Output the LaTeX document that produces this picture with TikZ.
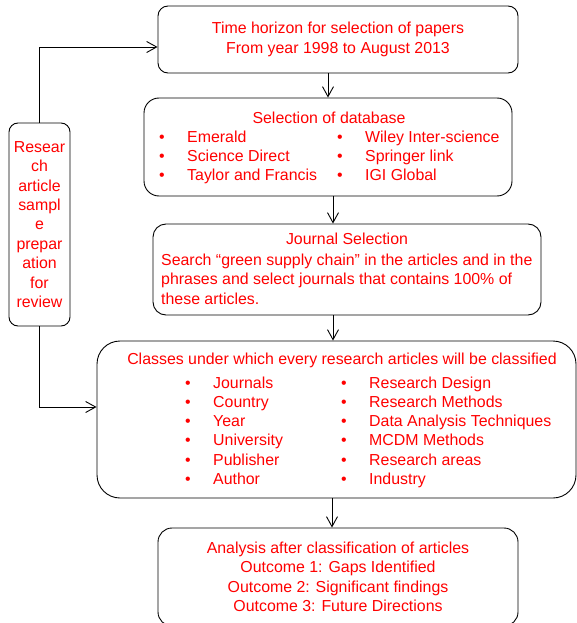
\documentclass[tikz,border=0pt]{standalone}
\usepackage{fontspec}
\setmainfont{Liberation Sans}
\usetikzlibrary{arrows.meta}
\newcommand{\itm}[1]{\makebox[28pt][l]{\textbullet}#1}
\tikzstyle{stage}=[rectangle,draw=black,line width=0.9pt,inner sep=0pt,text=red,align=center,font=\fontsize{15.9}{19.4}\selectfont]
\tikzstyle{lbl}=[inner sep=0pt,text=red,font=\fontsize{15.9}{19.4}\selectfont]
\tikzstyle{flow}=[line width=0.9pt,-{Straight Barb[length=10pt,width=11pt]}]

\begin{document}
\begin{tikzpicture}[x=1pt,y=-1pt]
            \useasboundingbox (0,0) rectangle (577,623);
            \clip (0,0) rectangle (577,623);

            \node[stage,minimum width=360pt,minimum height=67pt,rounded corners=10pt] (time) at (338,39.5)
                {Time horizon for selection of papers\\From year 1998 to August 2013};

            \node[stage,minimum width=368pt,minimum height=98pt,rounded corners=15pt] (db) at (328,147) {};
            \node[lbl,anchor=base] (dbt) at (329,123) {Selection of database};
            \node[lbl,anchor=base west] (db1) at (159,142.5) {\itm{Emerald}};
            \node[lbl,anchor=base west] (db2) at (159,161.5) {\itm{Science Direct}};
            \node[lbl,anchor=base west] (db3) at (159,180.5) {\itm{Taylor and Francis}};
            \node[lbl,anchor=base west] (db4) at (337,142.5) {\itm{Wiley Inter-science}};
            \node[lbl,anchor=base west] (db5) at (337,161.5) {\itm{Springer link}};
            \node[lbl,anchor=base west] (db6) at (337,180.5) {\itm{IGI Global}};

            \node[stage,minimum width=388pt,minimum height=91pt,rounded corners=13pt] (jrn) at (347,269.5) {};
            \node[lbl,anchor=base] (jrnt) at (347,244) {Journal Selection};
            \node[lbl,anchor=base west] (jrn1) at (161,265) {Search “green supply chain” in the articles and in the};
            \node[lbl,anchor=base west] (jrn2) at (161,284.5) {phrases and select journals that contains 100\% of};
            \node[lbl,anchor=base west] (jrn3) at (161,304) {these articles.};

            \node[stage,minimum width=479pt,minimum height=157pt,rounded corners=23pt] (cls) at (336.5,419.5) {};
            \node[lbl,anchor=base] (clst) at (342,364) {Classes under which every research articles will be classified};
            \node[lbl,anchor=base west] (cl1) at (185,388) {\itm{Journals}};
            \node[lbl,anchor=base west] (cl2) at (185,407.3) {\itm{Country}};
            \node[lbl,anchor=base west] (cl3) at (185,426.6) {\itm{Year}};
            \node[lbl,anchor=base west] (cl4) at (185,445.9) {\itm{University}};
            \node[lbl,anchor=base west] (cl5) at (185,465.2) {\itm{Publisher}};
            \node[lbl,anchor=base west] (cl6) at (185,484.5) {\itm{Author}};
            \node[lbl,anchor=base west] (cr1) at (341,388) {\itm{Research Design}};
            \node[lbl,anchor=base west] (cr2) at (341,407.3) {\itm{Research Methods}};
            \node[lbl,anchor=base west] (cr3) at (341,426.6) {\itm{Data Analysis Techniques}};
            \node[lbl,anchor=base west] (cr4) at (341,445.9) {\itm{MCDM Methods}};
            \node[lbl,anchor=base west] (cr5) at (341,465.2) {\itm{Research areas}};
            \node[lbl,anchor=base west] (cr6) at (341,484.5) {\itm{Industry}};

            \node[stage,minimum width=360pt,minimum height=98pt,rounded corners=14pt] (res) at (338,577)
                {Analysis after classification of articles\\Outcome 1: Gaps Identified\\
                 Outcome 2: Significant findings\\Outcome 3: Future Directions};

            \node[stage,minimum width=61pt,minimum height=203pt,rounded corners=9pt] (prep) at (39.5,224.5)
                {Resear\\ch\\article\\sampl\\e\\prepar\\ation\\for\\review};

            \draw[flow] (time.south -| db.north) -- (db.north);
            \draw[flow] ([xshift=5pt]db.south) -- ([xshift=5pt]db.south |- jrn.north);
            \draw[flow] ([xshift=-3.5pt]cls.north |- jrn.south) -- ([xshift=-3.5pt]cls.north);
            \draw[flow] ([xshift=-6pt]res.north |- cls.south) -- ([xshift=-6pt]res.north);

            \draw[flow] (prep.north) |- ([yshift=-7.5pt]time.west);
            \draw[flow] (prep.south) |- ([yshift=12.5pt]cls.west);

        \end{tikzpicture}
\end{document}
